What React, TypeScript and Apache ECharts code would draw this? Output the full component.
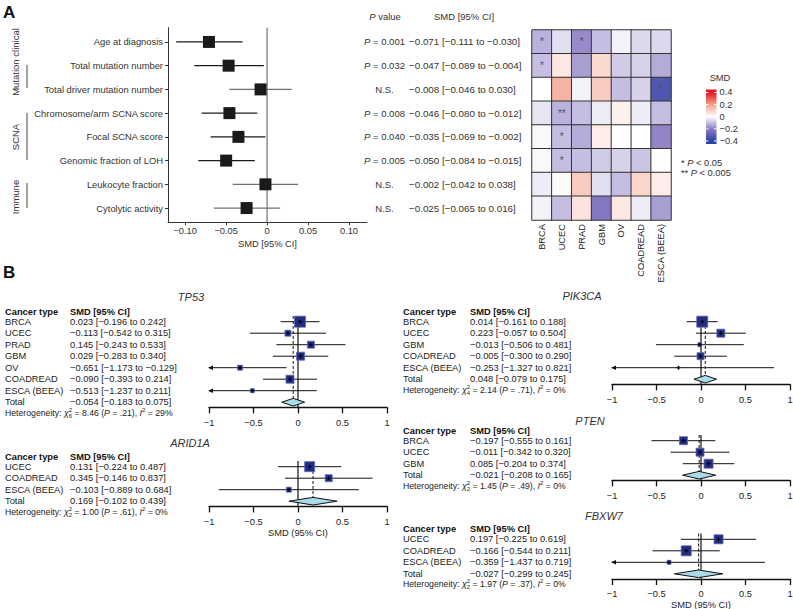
import React, { useEffect, useRef } from 'react';
import * as echarts from 'echarts';

const FONT = "'Liberation Sans', Arial, Helvetica, sans-serif";
const TXT = '#222';

// ---------------- Panel A data ----------------
const featuresA = [
  'Age at diagnosis',
  'Total mutation number',
  'Total driver mutation number',
  'Chromosome/arm SCNA score',
  'Focal SCNA score',
  'Genomic fraction of LOH',
  'Leukocyte fraction',
  'Cytolytic activity',
];
const smdA = [-0.071, -0.047, -0.008, -0.046, -0.035, -0.05, -0.002, -0.025];
const loA = [-0.111, -0.089, -0.046, -0.08, -0.069, -0.084, -0.042, -0.065];
const hiA = [-0.03, -0.004, 0.03, -0.012, -0.002, -0.015, 0.038, 0.016];
const pA: (number | null)[] = [0.001, 0.032, null, 0.008, 0.04, 0.005, null, null];
const xTicksA = [-0.1, -0.05, 0, 0.05, 0.1];

// heatmap (rows = features above, columns = cancers)
const heatCancers = ['BRCA', 'UCEC', 'PRAD', 'GBM', 'OV', 'COADREAD', 'ESCA (BEEA)'];
const heatSMD = [
  [-0.12, -0.05, -0.18, -0.1, -0.02, -0.06, -0.06],
  [-0.1, 0.05, -0.15, 0.08, -0.08, -0.07, -0.13],
  [0.0, 0.16, -0.02, 0.11, -0.1, -0.07, -0.33],
  [-0.04, -0.12, -0.1, -0.03, 0.03, -0.03, -0.1],
  [-0.01, -0.1, -0.13, 0.04, 0.0, 0.0, -0.19],
  [-0.01, -0.1, -0.1, -0.08, -0.07, -0.09, 0.005],
  [-0.03, 0.01, 0.11, -0.05, -0.1, 0.09, 0.04],
  [-0.02, -0.1, 0.06, -0.22, 0.05, -0.03, -0.15],
];
const heatSig = [
  ['*', '', '*', '', '', '', ''],
  ['*', '', '', '', '', '', ''],
  ['', '', '', '', '', '', '*'],
  ['', '**', '', '', '', '', ''],
  ['', '*', '', '', '', '', ''],
  ['', '*', '', '', '', '', ''],
  ['', '', '', '', '', '', ''],
  ['', '', '', '', '', '', ''],
];
const scaleColors = ['#2e42a6', '#8c7dc4', '#ffffff', '#f3a18c', '#e8151f'];
const legendTicks = [0.4, 0.2, 0, -0.2, -0.4];

// ---------------- Panel B data ----------------
const tp53Cancers = ['BRCA', 'UCEC', 'PRAD', 'GBM', 'OV', 'COADREAD', 'ESCA (BEEA)'];
const tp53Smd = [0.023, -0.113, 0.145, 0.029, -0.651, -0.09, -0.513];
const tp53Lo = [-0.196, -0.542, -0.243, -0.283, -1.173, -0.393, -1.237];
const tp53Hi = [0.242, 0.315, 0.533, 0.34, -0.129, 0.214, 0.211];
const tp53Weight = [11, 6, 7, 8, 5, 8, 4];
const tp53Total = [-0.054, -0.183, 0.075];
const tp53Het: [number, number, string, number] = [8.46, 6, '.21', 29];

const arid1aCancers = ['UCEC', 'COADREAD', 'ESCA (BEEA)'];
const arid1aSmd = [0.131, 0.345, -0.103];
const arid1aLo = [-0.224, -0.146, -0.889];
const arid1aHi = [0.487, 0.837, 0.684];
const arid1aWeight = [10, 7, 5];
const arid1aTotal = [0.169, -0.102, 0.439];
const arid1aHet: [number, number, string, number] = [1.0, 2, '.61', 0];

const pik3caCancers = ['BRCA', 'UCEC', 'GBM', 'COADREAD', 'ESCA (BEEA)'];
const pik3caSmd = [0.014, 0.223, -0.013, -0.005, -0.253];
const pik3caLo = [-0.161, -0.057, -0.506, -0.3, -1.327];
const pik3caHi = [0.188, 0.504, 0.481, 0.29, 0.821];
const pik3caWeight = [11, 8, 4, 7, 2];
const pik3caTotal = [0.048, -0.079, 0.175];
const pik3caHet: [number, number, string, number] = [2.14, 4, '.71', 0];

const ptenCancers = ['BRCA', 'UCEC', 'GBM'];
const ptenSmd = [-0.197, -0.011, 0.085];
const ptenLo = [-0.555, -0.342, -0.204];
const ptenHi = [0.161, 0.32, 0.374];
const ptenWeight = [8, 8, 9];
const ptenTotal = [-0.021, -0.208, 0.165];
const ptenHet: [number, number, string, number] = [1.45, 2, '.49', 0];

const fbxw7Cancers = ['UCEC', 'COADREAD', 'ESCA (BEEA)'];
const fbxw7Smd = [0.197, -0.166, -0.359];
const fbxw7Lo = [-0.225, -0.544, -1.437];
const fbxw7Hi = [0.619, 0.211, 0.719];
const fbxw7Weight = [9, 10, 4];
const fbxw7Total = [-0.027, -0.299, 0.245];
const fbxw7Het: [number, number, string, number] = [1.97, 2, '.37', 0];

type Gene = {
  name: string;
  cancers: string[];
  smd: number[];
  lo: number[];
  hi: number[];
  w: number[];
  total: number[];
  het: [number, number, string, number];
};

const genes: Gene[] = [
  { name: 'TP53', cancers: tp53Cancers, smd: tp53Smd, lo: tp53Lo, hi: tp53Hi, w: tp53Weight, total: tp53Total, het: tp53Het },
  { name: 'ARID1A', cancers: arid1aCancers, smd: arid1aSmd, lo: arid1aLo, hi: arid1aHi, w: arid1aWeight, total: arid1aTotal, het: arid1aHet },
  { name: 'PIK3CA', cancers: pik3caCancers, smd: pik3caSmd, lo: pik3caLo, hi: pik3caHi, w: pik3caWeight, total: pik3caTotal, het: pik3caHet },
  { name: 'PTEN', cancers: ptenCancers, smd: ptenSmd, lo: ptenLo, hi: ptenHi, w: ptenWeight, total: ptenTotal, het: ptenHet },
  { name: 'FBXW7', cancers: fbxw7Cancers, smd: fbxw7Smd, lo: fbxw7Lo, hi: fbxw7Hi, w: fbxw7Weight, total: fbxw7Total, het: fbxw7Het },
];

// layout (positions only)
const layoutB = [
  { left: 209, row0: 321.7, tx: 191, ty: 297, textX: 5, col2: 70, axisName: false },
  { left: 209, row0: 466.7, tx: 190, ty: 443, textX: 5, col2: 70, axisName: true },
  { left: 612, row0: 321.7, tx: 582, ty: 296, textX: 403, col2: 470, axisName: false },
  { left: 612, row0: 440.7, tx: 590, ty: 421, textX: 403, col2: 470, axisName: false },
  { left: 612, row0: 539.3, tx: 604, ty: 516, textX: 403, col2: 470, axisName: true },
];
const ROWH = 11.5;

const mm = (v: number, d = 3) => (v < 0 ? '\u2212' : '') + Math.abs(v).toFixed(d);
const ci = (e: number, l: number, h: number) => `${mm(e)} [${mm(l)} to ${mm(h)}]`;

const T = (x: number, y: number, text: string, opts: any = {}, extra: any = {}) => ({
  type: 'text',
  x,
  y,
  silent: true,
  ...extra,
  style: {
    text,
    fontFamily: FONT,
    fontSize: 9.3,
    fill: TXT,
    align: 'left',
    textAlign: opts.align || 'left',
    verticalAlign: 'middle',
    textVerticalAlign: 'middle',
    ...opts,
  },
});

function buildOption() {
  const grids: any[] = [];
  const xAxes: any[] = [];
  const yAxes: any[] = [];
  const series: any[] = [];
  const graphics: any[] = [];

  // ---------- Panel A forest ----------
  grids.push({ left: 168, top: 27.7, width: 199, height: 194.6, containLabel: false, outerBoundsMode: 'none' });
  xAxes.push({
    gridIndex: 0,
    type: 'value',
    min: -0.121,
    max: 0.122,
    axisLine: { show: true, onZero: false, lineStyle: { color: '#333', width: 1 } },
    axisTick: { show: true, length: 3, customValues: xTicksA, lineStyle: { color: '#333' } },
    axisLabel: {
      customValues: xTicksA,
      formatter: (v: number) => (Math.abs(v) < 1e-9 ? '0' : mm(v, 2)),
      fontSize: 9.3,
      color: '#333',
      margin: 4,
    },
    splitLine: { show: false },
    name: 'SMD [95% CI]',
    nameLocation: 'middle',
    nameGap: 17,
    nameTextStyle: { fontSize: 9.3, color: '#333' },
  });
  const rowValsA = featuresA.map((_, i) => i);
  yAxes.push({
    gridIndex: 0,
    type: 'value',
    min: -0.6,
    max: 7.6,
    inverse: true,
    axisLine: { show: true, onZero: false, lineStyle: { color: '#333' } },
    axisTick: { show: true, length: 3, customValues: rowValsA, lineStyle: { color: '#333' } },
    axisLabel: {
      customValues: rowValsA,
      formatter: (v: number) => featuresA[Math.round(v)],
      fontSize: 9.4,
      color: '#333',
      margin: 5,
    },
    splitLine: { show: false },
  });
  yAxes.push({
    gridIndex: 0,
    type: 'value',
    position: 'right',
    min: -0.6,
    max: 7.6,
    inverse: true,
    axisLine: { show: false, onZero: false },
    axisTick: { show: false },
    splitLine: { show: false },
    axisLabel: {
      customValues: rowValsA,
      align: 'center',
      margin: 17.5,
      fontSize: 9.5,
      color: '#333',
      formatter: (v: number) => {
        const p = pA[Math.round(v)];
        return p == null ? 'N.S.' : `{i|P} = ${p.toFixed(3)}`;
      },
      rich: { i: { fontStyle: 'italic', fontSize: 9.5, color: '#333' } },
    },
  });
  yAxes.push({
    gridIndex: 0,
    type: 'value',
    position: 'right',
    min: -0.6,
    max: 7.6,
    inverse: true,
    axisLine: { show: false, onZero: false },
    axisTick: { show: false },
    splitLine: { show: false },
    axisLabel: {
      customValues: rowValsA,
      align: 'left',
      margin: 42,
      fontSize: 9.8,
      color: '#333',
      formatter: (v: number) => {
        const i = Math.round(v);
        return ci(smdA[i], loA[i], hiA[i]);
      },
    },
  });

  series.push({
    type: 'custom',
    xAxisIndex: 0,
    yAxisIndex: 0,
    silent: true,
    encode: { x: 0, y: 1 },
    data: [[0, 0]],
    renderItem: (_p: any, api: any) => {
      const a = api.coord([0, -0.6]);
      const b = api.coord([0, 7.6]);
      return { type: 'line', shape: { x1: a[0], y1: a[1], x2: b[0], y2: b[1] }, style: { stroke: '#555', lineWidth: 1 } };
    },
  });
  series.push({
    type: 'custom',
    xAxisIndex: 0,
    yAxisIndex: 0,
    silent: true,
    encode: { x: 0, y: 3 },
    data: featuresA.map((_, i) => [smdA[i], loA[i], hiA[i], i, pA[i] == null ? 1 : 0]),
    renderItem: (_p: any, api: any) => {
      const est = api.value(0), lo = api.value(1), hi = api.value(2), idx = api.value(3), ns = api.value(4);
      const c = api.coord([est, idx]);
      const l = api.coord([lo, idx]);
      const h = api.coord([hi, idx]);
      const col = ns ? '#707070' : '#1a1a1a';
      return {
        type: 'group',
        children: [
          { type: 'line', shape: { x1: l[0], y1: c[1], x2: h[0], y2: c[1] }, style: { stroke: col, lineWidth: 1.2 } },
          { type: 'rect', shape: { x: c[0] - 6, y: c[1] - 6, width: 12, height: 12 }, style: { fill: '#1a1a1a' } },
        ],
      };
    },
  });

  // ---------- Heatmap ----------
  grids.push({ left: 532, top: 30, width: 139, height: 190, containLabel: false, outerBoundsMode: 'none' });
  xAxes.push({
    gridIndex: 1,
    type: 'category',
    data: heatCancers,
    position: 'bottom',
    axisLine: { show: false },
    axisTick: { show: false },
    axisLabel: { rotate: 90, fontSize: 9.3, color: TXT, margin: 4, interval: 0 },
    splitLine: { show: false },
  });
  yAxes.push({
    gridIndex: 1,
    type: 'category',
    data: featuresA,
    inverse: true,
    axisLine: { show: false },
    axisTick: { show: false },
    axisLabel: { show: false },
    splitLine: { show: false },
  });
  const heatData: any[] = [];
  heatSMD.forEach((row, r) => row.forEach((v, c) => heatData.push([c, r, v, heatSig[r][c]])));
  const heatIndex = series.length;
  series.push({
    type: 'heatmap',
    xAxisIndex: 1,
    yAxisIndex: 3,
    silent: true,
    data: heatData,
    itemStyle: { borderColor: '#333', borderWidth: 1 },
    emphasis: { disabled: true },
    label: {
      show: true,
      formatter: (p: any) => p.value[3],
      color: '#555',
      fontSize: 10,
      fontFamily: FONT,
    },
  });

  // ---------- Panel B ----------
  genes.forEach((g, k) => {
    const L = layoutB[k];
    const gi = grids.length;
    const n = g.cancers.length + 1;
    const yMin = -0.5;
    const yMax = n - 1 + 0.45;
    grids.push({
      left: L.left,
      width: 178,
      top: L.row0 - 0.5 * ROWH,
      height: (yMax - yMin) * ROWH,
      containLabel: false,
      outerBoundsMode: 'none',
    });
    const xi = xAxes.length;
    xAxes.push({
      gridIndex: gi,
      type: 'value',
      min: -1,
      max: 1,
      interval: 0.5,
      axisLine: { show: true, onZero: false, lineStyle: { color: '#111', width: 1.3 } },
      axisTick: { show: true, length: 6, inside: false, lineStyle: { color: '#111', width: 1.3 } },
      axisLabel: {
        fontSize: 9.3,
        color: TXT,
        margin: 11,
        formatter: (v: number) => (v === 0 ? '0' : (v < 0 ? '\u2212' : '') + Math.abs(v)),
      },
      splitLine: { show: false },
      name: L.axisName ? 'SMD (95% CI)' : '',
      nameLocation: 'middle',
      nameGap: 22,
      nameTextStyle: { fontSize: 9.3, color: TXT },
    });
    const labels = [...g.cancers, 'Total'];
    const ests = [...g.smd, g.total[0]];
    const los = [...g.lo, g.total[1]];
    const his = [...g.hi, g.total[2]];
    const rowVals = labels.map((_, i) => i);
    const yi = yAxes.length;
    yAxes.push({
      gridIndex: gi,
      type: 'value',
      position: 'left',
      min: yMin,
      max: yMax,
      inverse: true,
      axisLine: { show: false, onZero: false },
      axisTick: { show: false },
      splitLine: { show: false },
      axisLabel: {
        customValues: rowVals,
        align: 'left',
        margin: L.left - L.textX,
        fontSize: 9.3,
        color: TXT,
        formatter: (v: number) => {
          const i = Math.round(v);
          return `{n|${labels[i]}}{v|${ci(ests[i], los[i], his[i])}}`;
        },
        rich: {
          n: { width: L.col2 - L.textX, fontSize: 9.3, color: TXT, align: 'left' },
          v: { fontSize: 9.3, color: TXT },
        },
      },
    });

    const tot = g.total;
    // reference lines
    series.push({
      type: 'custom',
      xAxisIndex: xi,
      yAxisIndex: yi,
      silent: true,
      encode: { x: 0, y: 1 },
      data: [[tot[0], n - 1]],
      renderItem: (_p: any, api: any) => {
        const est = api.value(0);
        const top0 = api.coord([0, yMin]);
        const bot0 = api.coord([0, yMax]);
        const topE = api.coord([est, yMin]);
        const botE = api.coord([est, n - 1]);
        return {
          type: 'group',
          children: [
            { type: 'line', shape: { x1: top0[0], y1: top0[1], x2: bot0[0], y2: bot0[1] }, style: { stroke: '#111', lineWidth: 1.2 } },
            {
              type: 'line',
              shape: { x1: topE[0], y1: topE[1], x2: botE[0], y2: botE[1] - 3.8 },
              style: { stroke: '#111', lineWidth: 1, lineDash: [3, 2] },
            },
          ],
        };
      },
    });
    // study rows
    series.push({
      type: 'custom',
      xAxisIndex: xi,
      yAxisIndex: yi,
      silent: true,
      encode: { x: 0, y: 3 },
      data: g.cancers.map((_, i) => [g.smd[i], g.lo[i], g.hi[i], i, g.w[i]]),
      renderItem: (_p: any, api: any) => {
        const est = api.value(0), lo = api.value(1), hi = api.value(2), idx = api.value(3), s = api.value(4);
        const c = api.coord([est, idx]);
        const l = api.coord([Math.max(lo, -1), idx]);
        const h = api.coord([Math.min(hi, 1), idx]);
        const y = c[1];
        const ch: any[] = [
          { type: 'line', shape: { x1: l[0], y1: y, x2: h[0], y2: y }, style: { stroke: '#111', lineWidth: 1 } },
        ];
        if (lo < -1) {
          ch.push({
            type: 'polygon',
            shape: { points: [[l[0] - 1, y], [l[0] + 4, y - 2.3], [l[0] + 4, y + 2.3]] },
            style: { fill: '#111' },
          });
        }
        ch.push({
          type: 'rect',
          shape: { x: c[0] - s / 2, y: y - s / 2, width: s, height: s },
          style: { fill: '#232c80', stroke: '#5b68b8', lineWidth: 0.8 },
        });
        ch.push({ type: 'line', shape: { x1: c[0], y1: y - 2, x2: c[0], y2: y + 2 }, style: { stroke: '#000', lineWidth: 1 } });
        ch.push({ type: 'line', shape: { x1: c[0] - 2, y1: y, x2: c[0] + 2, y2: y }, style: { stroke: '#000', lineWidth: 1 } });
        return { type: 'group', children: ch };
      },
    });
    // total diamond
    series.push({
      type: 'custom',
      xAxisIndex: xi,
      yAxisIndex: yi,
      silent: true,
      encode: { x: 0, y: 3 },
      data: [[tot[0], tot[1], tot[2], n - 1]],
      renderItem: (_p: any, api: any) => {
        const idx = api.value(3);
        const c = api.coord([api.value(0), idx]);
        const l = api.coord([api.value(1), idx]);
        const h = api.coord([api.value(2), idx]);
        const hh = 3.8;
        return {
          type: 'polygon',
          shape: { points: [[l[0], c[1]], [c[0], c[1] - hh], [h[0], c[1]], [c[0], c[1] + hh]] },
          style: { fill: '#a8dcea', stroke: '#111', lineWidth: 1 },
        };
      },
    });

    // texts
    graphics.push(T(L.tx, L.ty, g.name, { fontSize: 11, fontStyle: 'italic', align: 'center', textAlign: 'center', fill: '#333' }));
    graphics.push(T(L.textX, L.row0 - 10, 'Cancer type', { fontWeight: 'bold', fill: '#111' }));
    graphics.push(T(L.col2, L.row0 - 10, 'SMD [95% CI]', { fontWeight: 'bold', fill: '#111' }));
    const [chi, df, pv, i2] = g.het;
    const base = { fontSize: 8.7, fontFamily: FONT, fill: TXT, color: TXT };
    graphics.push(
      T(
        L.textX,
        L.row0 + (n - 1) * ROWH + 10.5,
        `Heterogeneity: {c|\u03c7}{sup|2}{sub|${df}} = ${chi.toFixed(2)} ({i|P} = ${pv}), {i|I}{sup2|2} = ${i2}%`,
        {
          fontSize: 8.7,
          lineHeight: 12,
          rich: {
            c: { ...base, fontStyle: 'italic', lineHeight: 12 },
            sup: { ...base, fontSize: 6, verticalAlign: 'top', width: 0, lineHeight: 7 },
            sub: { ...base, fontSize: 6, verticalAlign: 'bottom', lineHeight: 7 },
            i: { ...base, fontStyle: 'italic', lineHeight: 12 },
            sup2: { ...base, fontSize: 6, verticalAlign: 'top', lineHeight: 7 },
          },
        }
      )
    );
  });

  // ---------- Panel A decorations ----------
  graphics.push(T(3, 12, 'A', { fontSize: 17, fontWeight: 'bold', fill: '#111' }));
  graphics.push(T(3, 272, 'B', { fontSize: 17, fontWeight: 'bold', fill: '#111' }));
  graphics.push(T(15, 62, 'Mutation clinical', { fontSize: 9.5, align: 'center', textAlign: 'center', fill: '#333' }, { rotation: Math.PI / 2 }));
  graphics.push(T(15, 137, 'SCNA', { fontSize: 9.5, align: 'center', textAlign: 'center', fill: '#333' }, { rotation: Math.PI / 2 }));
  graphics.push(T(15, 197, 'Immune', { fontSize: 9.5, align: 'center', textAlign: 'center', fill: '#333' }, { rotation: Math.PI / 2 }));
  [
    [65, 88],
    [113, 160],
    [183, 208],
  ].forEach(([a, b]) =>
    graphics.push({ type: 'line', silent: true, shape: { x1: 27, y1: a, x2: 27, y2: b }, style: { stroke: '#444', lineWidth: 1 } })
  );
  graphics.push(
    T(385, 16, '{i|P} value', {
      fontSize: 9.5,
      align: 'center',
      textAlign: 'center',
      fill: '#333',
      rich: { i: { fontSize: 9.5, fontFamily: FONT, fontStyle: 'italic', fill: '#333', color: '#333' } },
    })
  );
  graphics.push(T(464, 16, 'SMD [95% CI]', { fontSize: 9.5, align: 'center', textAlign: 'center', fill: '#333' }));

  // legend colour bar
  const barTop = 89.5;
  const barH = 54.5;
  const vToY = (v: number) => 116.7 - v * 60.6;
  const off = (v: number) => (vToY(v) - barTop) / barH;
  graphics.push(T(720, 78, 'SMD', { align: 'center', textAlign: 'center', fill: '#333' }));
  graphics.push({
    type: 'rect',
    silent: true,
    shape: { x: 706, y: barTop, width: 10.5, height: barH },
    style: {
      fill: new echarts.graphic.LinearGradient(0, 0, 0, 1, [
        { offset: 0, color: scaleColors[4] },
        { offset: off(0.4), color: scaleColors[4] },
        { offset: off(0.2), color: scaleColors[3] },
        { offset: off(0), color: scaleColors[2] },
        { offset: off(-0.2), color: scaleColors[1] },
        { offset: off(-0.4), color: scaleColors[0] },
        { offset: 1, color: scaleColors[0] },
      ]),
    },
  });
  legendTicks.forEach((v) => {
    const y = vToY(v);
    graphics.push({ type: 'line', silent: true, shape: { x1: 706, y1: y, x2: 708.5, y2: y }, style: { stroke: '#fff', lineWidth: 1 } });
    graphics.push({ type: 'line', silent: true, shape: { x1: 714, y1: y, x2: 716.5, y2: y }, style: { stroke: '#fff', lineWidth: 1 } });
    graphics.push(T(719.5, y, v === 0 ? '0' : mm(v, 1), { fill: '#333' }));
  });
  const sigRich = { i: { fontSize: 9.3, fontFamily: FONT, fontStyle: 'italic', fill: '#333', color: '#333' } };
  graphics.push(T(681, 162.5, '* {i|P} < 0.05', { fill: '#333', rich: sigRich }));
  graphics.push(T(681, 172.5, '** {i|P} < 0.005', { fill: '#333', rich: sigRich }));

  return {
    animation: false,
    backgroundColor: '#fff',
    textStyle: { fontFamily: FONT },
    tooltip: { show: false },
    grid: grids,
    xAxis: xAxes,
    yAxis: yAxes,
    visualMap: {
      type: 'continuous',
      show: false,
      min: -0.4,
      max: 0.4,
      dimension: 2,
      seriesIndex: heatIndex,
      inRange: { color: scaleColors },
    },
    series,
    graphic: { elements: graphics },
  };
}

export default function App() {
  const ref = useRef<HTMLDivElement>(null);
  useEffect(() => {
    if (!ref.current) return;
    const chart = echarts.init(ref.current, null, { renderer: 'svg' });
    chart.setOption(buildOption() as any);
    return () => chart.dispose();
  }, []);
  return (
    <div
      ref={ref}
      style={{ position: 'absolute', left: 0, top: 0, width: 793, height: 609, background: '#fff' }}
    />
  );
}
